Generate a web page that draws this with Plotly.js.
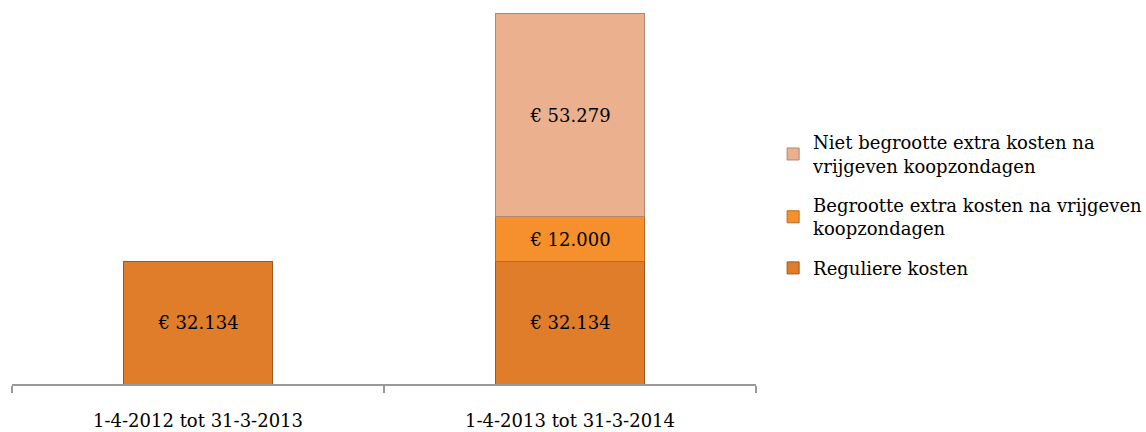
<!DOCTYPE html>
<html>
<head>
<meta charset="utf-8">
<script src="https://cdn.plot.ly/plotly-3.0.1.min.js"></script>
<style>html,body{margin:0;padding:0;background:#fff;}#chart{width:1146px;height:432px;}</style>
</head>
<body>
<div id="chart"></div>
<script>
const categories = ["1-4-2012 tot 31-3-2013", "1-4-2013 tot 31-3-2014"];
const seriesNames = ["Reguliere kosten", "Begrootte extra kosten na vrijgeven<br>koopzondagen", "Niet begrootte extra kosten na<br>vrijgeven koopzondagen"];
const reguliere = [32134, 32134];
const begroot = [null, 12000];
const nietBegroot = [null, 53279];

const colors = ["#E07D2B", "#F5902C", "#EBB08D"];
const lines = ["#9E561C", "#B86A22", "#B08670"];
const values = [reguliere, begroot, nietBegroot];

const font = "DejaVu Serif, Georgia, serif";
const traces = values.map((v, i) => ({
  type: "bar",
  name: seriesNames[i],
  legendgroup: "g" + i,
  legendrank: 1000 - i,
  x: categories,
  y: v,
  width: 0.403,
  marker: {color: colors[i], line: {color: lines[i], width: 1}},
  texttemplate: "€ %{y:,.0f}",
  textposition: "inside",
  insidetextanchor: "middle",
  textfont: {family: font, size: 18, color: "#000"},
  hoverinfo: "skip"
}));

const layout = {
  width: 1146, height: 432,
  margin: {l: 12, r: 390, t: 4, b: 48, autoexpand: false},
  barmode: "stack",
  separators: ",.",
  paper_bgcolor: "#fff",
  plot_bgcolor: "#fff",
  showlegend: true,
  font: {family: font, size: 18, color: "#000"},
  legend: {x: 1.023, xanchor: "left", y: 0.684, yanchor: "top", traceorder: "grouped",
           font: {family: font, size: 18, color: "#000"}, tracegroupgap: 13, itemwidth: 30},
  xaxis: {type: "category", showline: true, linecolor: "#999", linewidth: 1.5,
          ticks: "outside", tickson: "boundaries", ticklen: 7, tickcolor: "#999", tickwidth: 1.5,
          ticklabelstandoff: 20, showgrid: false, zeroline: false,
          tickfont: {family: font, size: 18, color: "#000"}},
  yaxis: {range: [0, 100000], visible: false, showgrid: false, zeroline: false}
};

Plotly.newPlot("chart", traces, layout, {displayModeBar: false, staticPlot: true});
</script>
</body>
</html>
